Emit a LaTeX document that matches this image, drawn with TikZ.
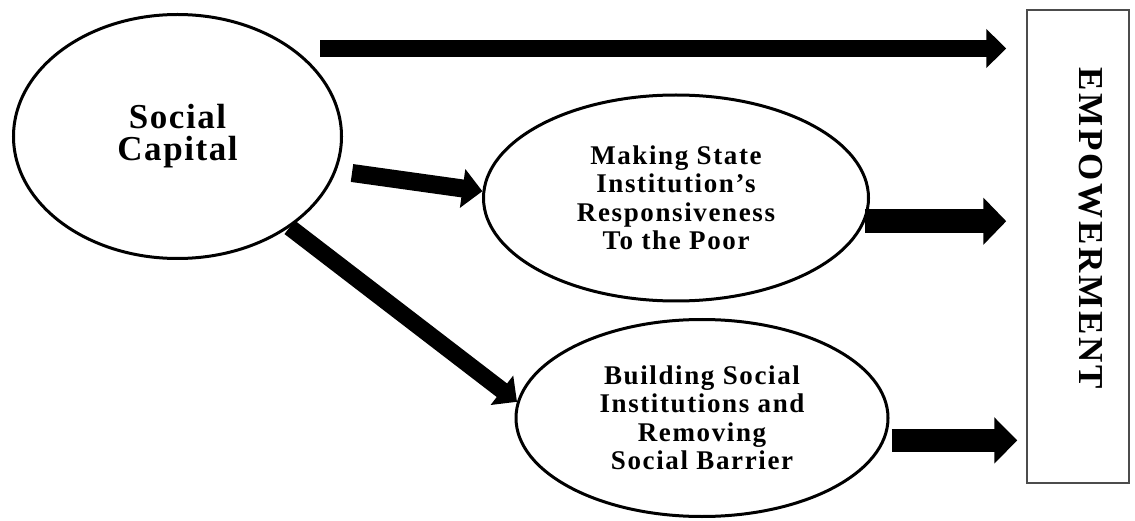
\documentclass[tikz,border=0pt]{standalone}
\usepackage{fontspec}
\setmainfont{Liberation Serif}
\newfontfamily\capfont[LetterSpace=4.5]{Liberation Serif}
\newfontfamily\boxfont[LetterSpace=6]{Liberation Serif}
\newfontfamily\empfont[LetterSpace=8]{Liberation Serif}
\usetikzlibrary{shapes.geometric,arrows.meta}

\begin{document}
\begin{tikzpicture}[x=1pt, y=-1pt,
    oval/.style={draw, ellipse, line width=3pt, inner sep=0pt, align=center},
    fat/.style n args={3}{line width=#1, -{Triangle[width=#2, length=#3]}}]

    \useasboundingbox (0, 0) rectangle (1135, 521);

    \node [oval, minimum width=328pt, minimum height=244pt,
           font=\capfont\bfseries\fontsize{35}{32}\selectfont] (sc) at (177.5, 136.5) {Social\\Capital};
    \node [oval, minimum width=385pt, minimum height=206pt,
           font=\boxfont\bfseries\fontsize{27}{28.5}\selectfont] (ms) at (676, 198)
          {Making State\\Institution’s\\Responsiveness\\To the Poor};
    \node [oval, minimum width=372pt, minimum height=197pt,
           font=\boxfont\bfseries\fontsize{27}{28.5}\selectfont] (bs) at (702, 418)
          {Building Social\\Institutions and\\Removing\\Social Barrier};
    \node [draw=black!70, line width=1.5pt, minimum width=102pt, minimum height=473pt] (emp) at (1078, 246.5) {};
    \node [rotate=-90, font=\empfont\bfseries\fontsize{35}{35}\selectfont] (emptext)
          at ([xshift=13pt, yshift=18.5pt]emp.center) {EMPOWERMENT};

    \coordinate (t1) at (320, 48.5);
    \coordinate (t2) at (352, 173);

    \draw [fat={17pt}{38pt}{20pt}, shorten >=20pt] (t1) to (t1 -| emp.west);
    \draw [fat={18pt}{38pt}{20pt}] (t2) to (ms.178);
    \draw [fat={17pt}{36pt}{19pt}] (sc.-39) to (bs.175);
    \draw [fat={24pt}{46pt}{23pt}, shorten >=20pt] (ms.-7) to (ms.-7 -| emp.west);
    \draw [fat={23pt}{45pt}{23pt}, shorten <=7pt, shorten >=9pt] (bs.-7) to (bs.-7 -| emp.west);

\end{tikzpicture}
\end{document}
